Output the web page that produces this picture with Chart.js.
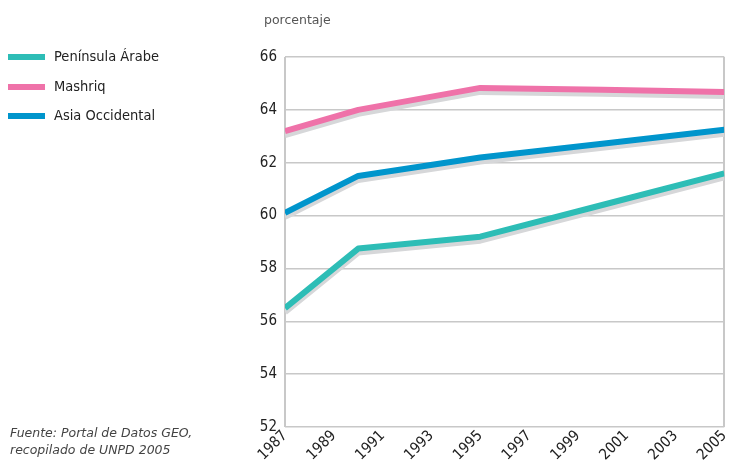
<!DOCTYPE html>
<html><head><meta charset="utf-8">
<script src="https://cdn.jsdelivr.net/npm/chart.js@4/dist/chart.umd.min.js"></script>
<style>
html,body{margin:0;padding:0;background:#fff;}
#wrap{position:relative;width:737px;height:463px;}
canvas{position:absolute;left:0;top:0;}
.lg{position:absolute;left:8px;font-family:"DejaVu Sans Condensed","DejaVu Sans",sans-serif;font-stretch:condensed;font-size:14.5px;color:#222;}
.sw{display:inline-block;width:37px;height:6px;vertical-align:middle;margin-right:9px;}
#unit{position:absolute;left:264px;top:12px;font-family:"DejaVu Sans",sans-serif;font-size:12.5px;color:#555;}
#src{position:absolute;left:10px;top:424px;font-family:"DejaVu Sans",sans-serif;font-style:italic;font-size:12.5px;color:#444;line-height:17px;}
</style></head><body>
<div id="wrap">
<canvas id="c" width="737" height="463"></canvas>
<div id="unit">porcentaje</div>
<div class="lg" style="top:48px"><span class="sw" style="background:#2dbdb6"></span>Península Árabe</div>
<div class="lg" style="top:78px"><span class="sw" style="background:#ef72a9"></span>Mashriq</div>
<div class="lg" style="top:107px"><span class="sw" style="background:#0095cc"></span>Asia Occidental</div>
<div id="src">Fuente: Portal de Datos GEO,<br>recopilado de UNPD 2005</div>
</div>
<script>
const years = [1987, 1990, 1995, 2000, 2005];
const peninsula = [56.5, 58.75, 59.2, 60.4, 61.6];
const mashriq = [63.2, 64.0, 64.83, 64.76, 64.68];
const asiaOcc = [60.1, 61.5, 62.2, 62.72, 63.25];
const seriesNames = ["Península Árabe", "Mashriq", "Asia Occidental"];
const yTicks = [52, 54, 56, 58, 60, 62, 64, 66];
const xTicks = [1987, 1989, 1991, 1993, 1995, 1997, 1999, 2001, 2003, 2005];

const toPts = arr => arr.map((v, i) => ({x: years[i], y: v}));
const fontC = "'DejaVu Sans Condensed','DejaVu Sans',sans-serif";

const shadow = {
  id: 'shadow',
  beforeDraw(chart) { try { chart.ctx.fontStretch = 'condensed'; } catch (e) {} },
  beforeDatasetDraw(chart) {
    const ctx = chart.ctx;
    ctx.save();
    ctx.shadowColor = '#d6d7d9';
    ctx.shadowOffsetX = 0;
    ctx.shadowOffsetY = 4;
    ctx.shadowBlur = 0;
  },
  afterDatasetDraw(chart) { chart.ctx.restore(); }
};

new Chart(document.getElementById('c'), {
  type: 'line',
  data: {
    datasets: [
      {label: seriesNames[0], data: toPts(peninsula), borderColor: '#2dbdb6'},
      {label: seriesNames[1], data: toPts(mashriq), borderColor: '#ef72a9'},
      {label: seriesNames[2], data: toPts(asiaOcc), borderColor: '#0095cc'}
    ]
  },
  options: {
    responsive: false,
    animation: false,
    layout: {padding: {left: 250, top: 57, right: 11, bottom: 0}},
    elements: {line: {borderWidth: 6, tension: 0, borderCapStyle: 'butt', borderJoinStyle: 'round'}, point: {radius: 0}},
    plugins: {legend: {display: false}, tooltip: {enabled: false}},
    scales: {
      x: {
        type: 'linear', min: 1987, max: 2005,
        afterBuildTicks: s => { s.ticks = xTicks.map(v => ({value: v})); },
        afterFit: s => { s.height = 36; },
        ticks: {minRotation: 45, maxRotation: 45, padding: 0, color: '#222', font: {family: fontC, size: 15},
          callback: v => String(v)},
        grid: {drawTicks: false, color: c => (c.tick && (c.tick.value === 1987 || c.tick.value === 2005)) ? '#c8c8c8' : 'rgba(0,0,0,0)', lineWidth: 2},
        border: {display: false}
      },
      y: {
        min: 52, max: 66,
        afterBuildTicks: s => { s.ticks = yTicks.map(v => ({value: v})); },
        afterFit: s => { s.width = 35; },
        ticks: {padding: 8, color: '#222', font: {family: fontC, size: 15}},
        grid: {drawTicks: false, color: '#c8c8c8', lineWidth: 1.5},
        border: {display: false}
      }
    }
  },
  plugins: [shadow]
});
</script>
</body></html>
